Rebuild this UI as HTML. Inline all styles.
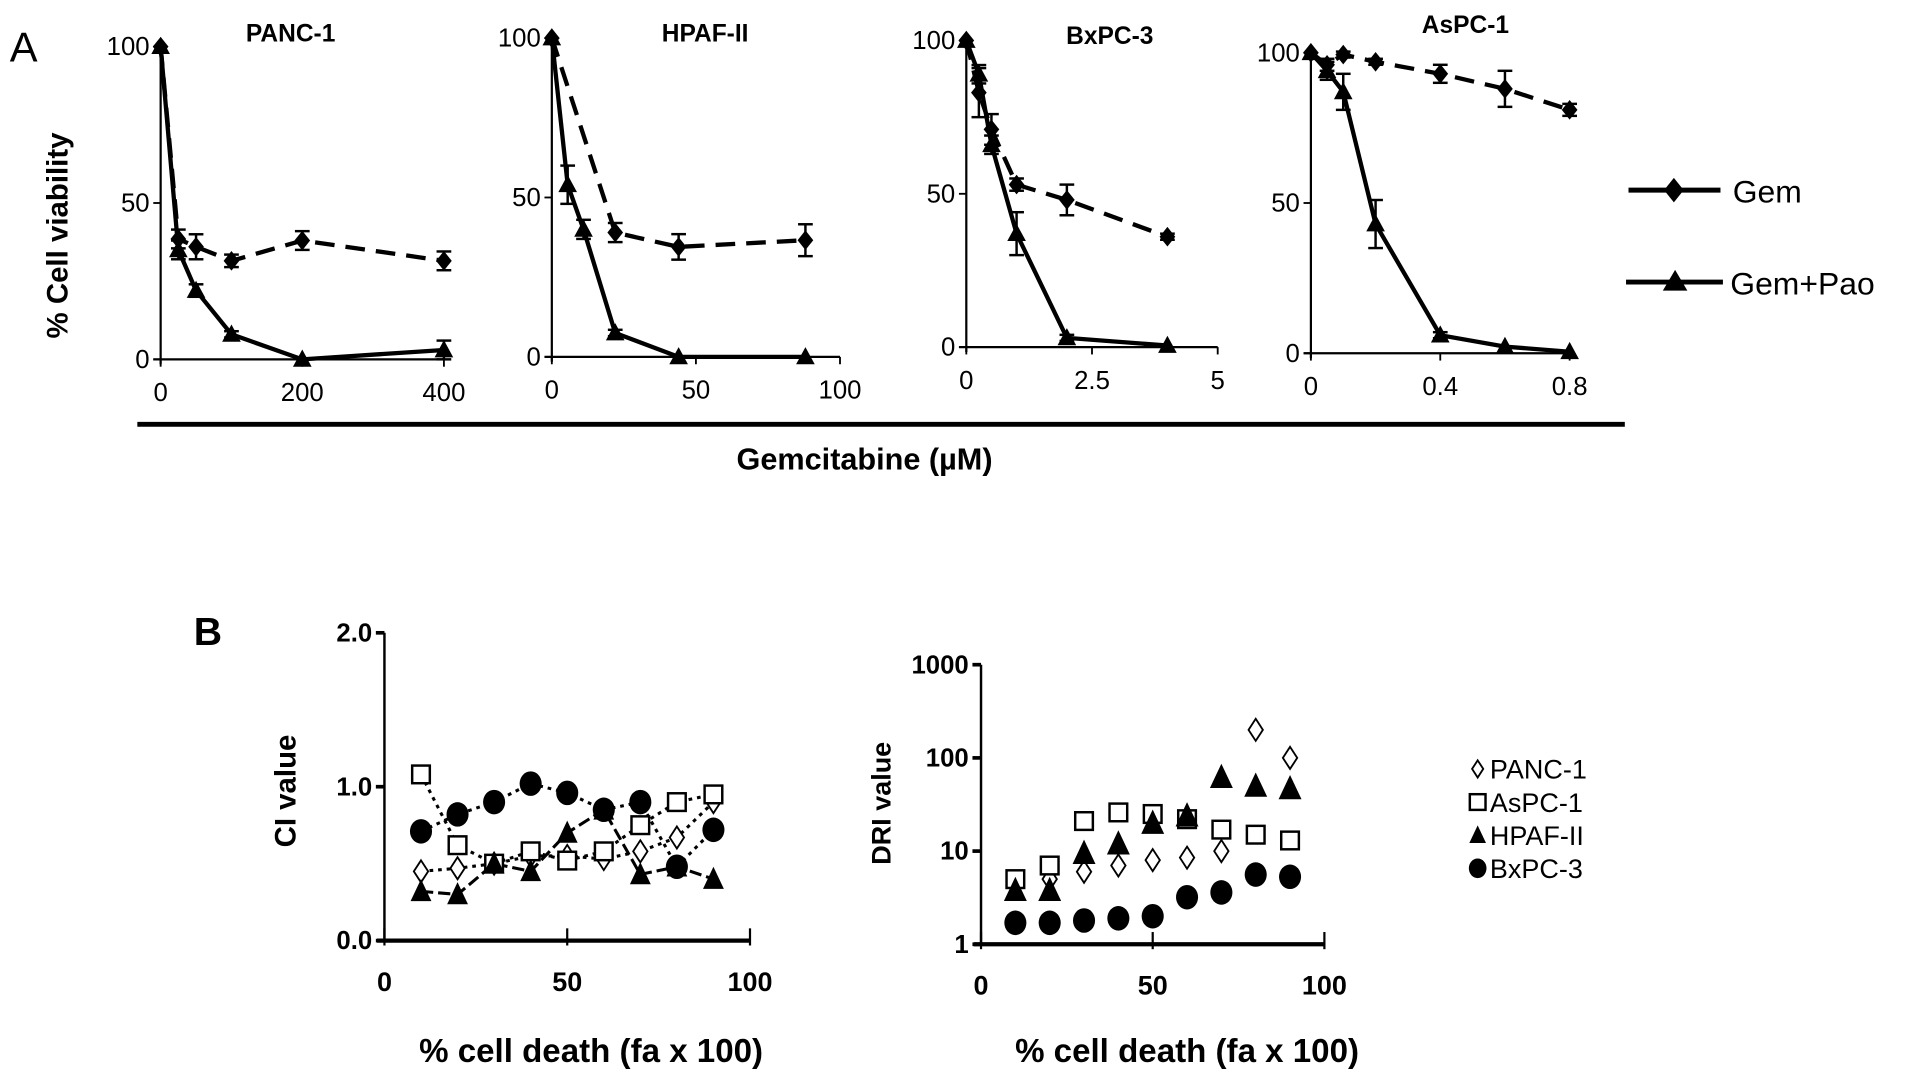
<!DOCTYPE html>
<html><head><meta charset="utf-8">
<style>
html,body{margin:0;padding:0;background:#fff;}
svg{display:block;font-family:"Liberation Sans",Arial,sans-serif;}
</style></head>
<body>
<svg id="fig" width="1913" height="1078" viewBox="0 0 1560 879" xmlns="http://www.w3.org/2000/svg">
<text x="8" y="50" font-size="34">A</text>
<text x="158" y="526" font-size="32" font-weight="bold">B</text>
<text transform="translate(55,192) rotate(-90)" text-anchor="middle" font-size="24" font-weight="bold">% Cell viability</text>
<line x1="112" y1="346" x2="1325" y2="346" stroke="#000" stroke-width="4"/>
<text x="705" y="383" text-anchor="middle" font-size="25" font-weight="bold">Gemcitabine (µM)</text>
<g>
<g>
<line x1="1328" y1="155" x2="1403" y2="155" stroke="#000" stroke-width="4"/>
<polygon points="1365,145 1373,155 1365,165 1357,155" fill="#000"/>
<text x="1413" y="165" font-size="26">Gem</text></g>
<g>
<line x1="1326" y1="230" x2="1405" y2="230" stroke="#000" stroke-width="4"/>
<polygon points="1366,220 1376,237 1356,237" fill="#000"/>
<text x="1411" y="240" font-size="26">Gem+Pao</text></g>
</g>
<text transform="translate(241,645) rotate(-90)" text-anchor="middle" font-size="24" font-weight="bold">CI value</text>
<text transform="translate(726,655) rotate(-90)" text-anchor="middle" font-size="22" font-weight="bold">DRI value</text>
<text x="482" y="866" text-anchor="middle" font-size="27" font-weight="bold">% cell death (fa x 100)</text>
<text x="968" y="866" text-anchor="middle" font-size="27" font-weight="bold">% cell death (fa x 100)</text>
<g id="legendB"></g>
</svg>
<script>
// ---- Panel A data ----
const pancX=[0,25,50,100,200,400];
const pancGem=[100,38.5,36,31.5,38,31.5];
const pancGemErr=[0,3,4,2,3,3];
const pancPao=[100,35,22,8,0,3];
const pancPaoErr=[0,3,2,1,0,3];
const hpafX=[0,5.5,11,22,44,88];
const hpafGemX=[0,22,44,88];
const hpafGem=[100,39,34.5,36.6];
const hpafGemErr=[0,3,4,5];
const hpafPao=[100,54,40,7.5,0,0];
const hpafPaoErr=[0,6,3,1,0,0];
const bxX=[0,0.25,0.5,1,2,4];
const bxGem=[100,83,71,53,48,36];
const bxGemErr=[0,8,5,2,5,1];
const bxPao=[100,89,66,37,3,0.5];
const bxPaoErr=[0,3,3,7,1,0];
const asX=[0,0.05,0.1,0.2,0.4,0.6,0.8];
const asGem=[100,96,99.4,97,93,88,81];
const asGemErr=[0,2,1,1,3,6,2];
const asPao=[100,94,87,43,6,2.2,0.5];
const asPaoErr=[0,3,6,8,1,0,0];
// ---- Panel B data ----
const fa=[10,20,30,40,50,60,70,80,90];
const ciPanc=[0.45,0.47,0.5,0.55,0.55,0.53,0.58,0.67,0.9];
const ciAspc=[1.08,0.62,0.5,0.58,0.52,0.58,0.75,0.9,0.95];
const ciHpaf=[0.32,0.3,0.5,0.45,0.7,0.85,0.43,0.48,0.4];
const ciBxpc=[0.71,0.82,0.9,1.02,0.96,0.85,0.9,0.48,0.72];
const driPanc=[4.5,5,6,7,8,8.5,10,200,100];
const driAspc=[5,7,21,26,25,22,17,15,13];
const driHpaf=[3.8,3.8,9.5,12,20,24,62,50,47];
const driBxpc=[1.7,1.7,1.8,1.9,2.0,3.2,3.6,5.6,5.3];
const ciTicks=["0.0","1.0","2.0"];
const driTicks=["1","10","100","1000"];

const NS="http://www.w3.org/2000/svg";
const svg=document.getElementById('fig');
function mk(tag,attrs,parent){const e=document.createElementNS(NS,tag);for(const k in attrs)e.setAttribute(k,attrs[k]);(parent||svg).appendChild(e);return e;}

function diamond(g,x,y,s,fill){return mk('polygon',{points:`${x},${y-s} ${x+s*0.8},${y} ${x},${y+s} ${x-s*0.8},${y}`,fill:fill,stroke:'#000','stroke-width':fill==='#fff'?1.5:0},g);}
function tri(g,x,y,s){return mk('polygon',{points:`${x},${y-s} ${x+s*0.95},${y+s*0.75} ${x-s*0.95},${y+s*0.75}`,fill:'#000'},g);}

function panelA(name,title,titleX,titleY,x0,x1,xmax,y0,y100,ticks,gemX,gem,gemErr,paoX,pao,paoErr){
  const g=mk('g',{});
  
  
  const sx=v=>x0+(v/xmax)*(x1-x0);
  const sy=v=>y0+(v/100)*(y100-y0);
  const t=mk('text',{x:titleX,y:titleY,'text-anchor':'middle','font-size':20,'font-weight':'bold'},g);
  t.textContent=title;
  
  
  mk('line',{x1:x0,y1:sy(100)-2,x2:x0,y2:y0+4,stroke:'#000','stroke-width':1.8},g);
  mk('line',{x1:x0-6,y1:y0,x2:x1,y2:y0,stroke:'#000','stroke-width':1.8},g);
  [0,50,100].forEach(v=>{
    mk('line',{x1:x0-6,y1:sy(v),x2:x0,y2:sy(v),stroke:'#000','stroke-width':1.5},g);
    const l=mk('text',{x:x0-9,y:sy(v)+7,'text-anchor':'end','font-size':21},g);
    l.textContent=v;
    
    
  });
  ticks.forEach(v=>{
    mk('line',{x1:sx(v),y1:y0,x2:sx(v),y2:y0+6,stroke:'#000','stroke-width':1.5},g);
    const l=mk('text',{x:sx(v),y:y0+34,'text-anchor':'middle','font-size':21},g);
    l.textContent=v;
    
    
  });
  const gl=mk('polyline',{points:gemX.map((v,i)=>sx(v)+','+sy(gem[i])).join(' '),fill:'none',stroke:'#000','stroke-width':3.5,'stroke-dasharray':'16,9'},g);
  
  
  const pl=mk('polyline',{points:paoX.map((v,i)=>sx(v)+','+sy(pao[i])).join(' '),fill:'none',stroke:'#000','stroke-width':3.5},g);
  
  
  function err(x,y,e){if(e<=0)return;const top=sy(y+e),bot=sy(y-e);mk('line',{x1:sx(x),y1:top,x2:sx(x),y2:bot,stroke:'#000','stroke-width':2},g);mk('line',{x1:sx(x)-6,y1:top,x2:sx(x)+6,y2:top,stroke:'#000','stroke-width':2},g);mk('line',{x1:sx(x)-6,y1:bot,x2:sx(x)+6,y2:bot,stroke:'#000','stroke-width':2},g);}
  gemX.forEach((v,i)=>{err(v,gem[i],gemErr[i]);const m=diamond(g,sx(v),sy(gem[i]),8,'#000');});
  paoX.forEach((v,i)=>{err(v,pao[i],paoErr[i]);const m=tri(g,sx(v),sy(pao[i]),8);});
}
panelA('chart-panc-1','PANC-1',237,34,131,362,400,293,38,[0,200,400],pancX,pancGem,pancGemErr,pancX,pancPao,pancPaoErr);
panelA('chart-hpaf-ii','HPAF-II',575,34,450,685,100,291,31,[0,50,100],hpafGemX,hpafGem,hpafGemErr,hpafX,hpafPao,hpafPaoErr);
panelA('chart-bxpc-3','BxPC-3',905,36,788,993,5,283,33,[0,2.5,5],bxX,bxGem,bxGemErr,bxX,bxPao,bxPaoErr);
panelA('chart-aspc-1','AsPC-1',1195,27,1069,1280,0.8,288,43,[0,0.4,0.8],asX,asGem,asGemErr,asX,asPao,asPaoErr);

function marker(g,type,x,y,s){
  let m;
  if(type==='diamond')m=mk('polygon',{points:`${x},${y-s} ${x+s*0.65},${y} ${x},${y+s} ${x-s*0.65},${y}`,fill:'#fff',stroke:'#000','stroke-width':1.5},g);
  else if(type==='square')m=mk('rect',{x:x-s*0.8,y:y-s*0.8,width:s*1.6,height:s*1.6,fill:'#fff',stroke:'#000','stroke-width':2},g);
  else if(type==='tri')m=mk('polygon',{points:`${x},${y-s} ${x+s*0.85},${y+s*0.8} ${x-s*0.85},${y+s*0.8}`,fill:'#000'},g);
  else m=mk('ellipse',{cx:x,cy:y,rx:s*0.9,ry:s,fill:'#000'},g);
  return m;
}
function panelB(name,x0,x100,sy,yTicksVals,yLabels,series,lines){
  const g=mk('g',{});
  
  
  const sx=v=>x0+(v/100)*(x100-x0);
  const yb=sy(yTicksVals[0]),yt=sy(yTicksVals[yTicksVals.length-1]);
  mk('line',{x1:x0,y1:yt,x2:x0,y2:yb,stroke:'#000','stroke-width':2},g);
  mk('line',{x1:x0-6,y1:yb,x2:x100,y2:yb,stroke:'#000','stroke-width':3.5},g);
  yTicksVals.forEach((v,i)=>{
    mk('line',{x1:x0-7,y1:sy(v),x2:x0,y2:sy(v),stroke:'#000','stroke-width':3},g);
    const l=mk('text',{x:x0-10,y:sy(v)+7,'text-anchor':'end','font-size':21,'font-weight':'bold'},g);
    l.textContent=yLabels[i];
    
    
  });
  [0,50,100].forEach(v=>{
    mk('line',{x1:sx(v),y1:yb-10,x2:sx(v),y2:yb+4,stroke:'#000','stroke-width':1.8},g);
    const l=mk('text',{x:sx(v),y:yb+41,'text-anchor':'middle','font-size':22,'font-weight':'bold'},g);
    l.textContent=v;
    
    
  });
  series.forEach(s=>{
    if(lines){const pl=mk('polyline',{points:fa.map((f,i)=>sx(f)+','+sy(s.vals[i])).join(' '),fill:'none',stroke:'#000','stroke-width':2.5,'stroke-dasharray':s.dash},g);
      
      }
  });
  series.forEach(s=>{
    fa.forEach((f,i)=>{const m=marker(g,s.type,sx(f),sy(s.vals[i]),s.size);
      
      });
  });
}
const ciY=v=>767-(v/2)*(767-516);
panelB('chart-ci',313.5,611.6,ciY,[0,1,2],ciTicks,[
  {key:'panc-1',type:'diamond',vals:ciPanc,size:9,dash:'3,4'},
  {key:'aspc-1',type:'square',vals:ciAspc,size:9,dash:'3,4'},
  {key:'hpaf-ii',type:'tri',vals:ciHpaf,size:10,dash:'10,4'},
  {key:'bxpc-3',type:'circle',vals:ciBxpc,size:10,dash:'3,4'}],true);
const driY=v=>770-Math.log10(v)*76;
panelB('chart-dri',800,1080,driY,[1,10,100,1000],driTicks,[
  {key:'panc-1',type:'diamond',vals:driPanc,size:9},
  {key:'aspc-1',type:'square',vals:driAspc,size:9},
  {key:'hpaf-ii',type:'tri',vals:driHpaf,size:11},
  {key:'bxpc-3',type:'circle',vals:driBxpc,size:10}],false);

const legB=document.getElementById('legendB');
const legNames=["PANC-1","AsPC-1","HPAF-II","BxPC-3"];
const legTypes=["diamond","square","tri","circle"];
legNames.forEach((n,i)=>{
  const y=627+i*27;
  const gi=mk('g',{},legB);
  
  
  marker(gi,legTypes[i],1205,y,legTypes[i]==='diamond'?7:8);
  const t=mk('text',{x:1215,y:y+8,'font-size':22},gi);
  t.textContent=n;
});
</script>
</body></html>
